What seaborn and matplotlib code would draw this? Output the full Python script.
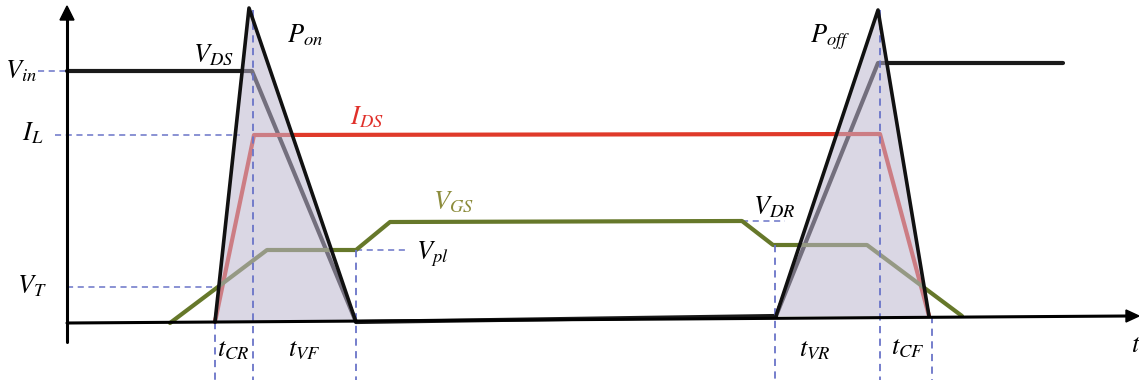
import numpy as np
import pandas as pd
import matplotlib
matplotlib.use("Agg")
import matplotlib.pyplot as plt
import seaborn as sns

# ---- waveform data (time, level) in drawing units ----
vds_t = [67, 252, 356, 776, 878, 1063]
vds_v = [71, 71, 322, 316, 63, 63]

ids_t = [215, 254, 880, 929]
ids_v = [322, 135, 134, 316]

vgs_t = [170, 267, 356, 390, 742, 773, 867, 962]
vgs_v = [323, 250, 250, 222, 221, 245, 245, 316]

# power-loss triangles (base start, apex, base end)
pon_t = [215, 249, 356]
pon_v = [322, 8, 322]
poff_t = [776, 878, 929]
poff_v = [316, 10, 316]

# reference levels: (label, y, x_start, x_end)
h_refs = [("Vin", 71, 38, 67), ("IL", 135, 55, 240), ("VT", 287, 67, 215),
          ("Vpl", 250, 356, 405), ("VDR", 221, 742, 785)]
# vertical markers: (x, y_top, y_bottom)
v_refs = [(215, 322, 380), (253, 10, 380), (356, 250, 380),
          (775, 245, 380), (880, 10, 380), (932, 316, 380)]

labels = [(r"$V_{in}$", 5, 71, "black"), (r"$I_{L}$", 22, 133, "black"),
          (r"$V_{T}$", 17, 286, "black"), (r"$V_{DS}$", 193, 55, "black"),
          (r"$P_{on}$", 287, 35, "black"), (r"$I_{DS}$", 350, 117, "#e0302a"),
          (r"$V_{GS}$", 433, 202, "#8c8c3c"), (r"$V_{pl}$", 416, 254, "black"),
          (r"$V_{DR}$", 753, 207, "black"), (r"$P_{off}$", 810, 37, "black"),
          (r"$t_{CR}$", 217, 349, "black"), (r"$t_{VF}$", 288, 349, "black"),
          (r"$t_{VR}$", 799, 349, "black"), (r"$t_{CF}$", 891, 347, "black"),
          (r"$t$", 1131, 345, "black")]

sns.set_theme(style="white")
plt.rcParams["mathtext.fontset"] = "stix"
plt.rcParams["font.family"] = ["DejaVu Serif"]

fig = plt.figure(figsize=(11.39, 3.83), dpi=100)
ax = fig.add_axes([0, 0, 1, 1])
ax.set_xlim(0, 1139)
ax.set_ylim(383, 0)
ax.axis("off")

dash_c = "#6a74c8"
for _, y, x0, x1 in h_refs:
    ax.plot([x0, x1], [y, y], ls=(0, (4, 3)), color=dash_c, lw=1.1, zorder=1)
for x, y0, y1 in v_refs:
    ax.plot([x, x], [y0, y1], ls=(0, (4, 3)), color=dash_c, lw=1.3, zorder=3.5)

# axes
ax.plot([67, 67], [342, 18], color="black", lw=2.2, zorder=5)
ax.fill([60, 67, 74], [20, 6, 20], color="black", zorder=5)
ax.plot([67, 1128], [323, 316], color="black", lw=2.2, zorder=5)
ax.fill([1126, 1139, 1126], [310, 316, 322], color="black", zorder=5)

df_vds = pd.DataFrame({"t": vds_t, "v": vds_v})
df_ids = pd.DataFrame({"t": ids_t, "v": ids_v})
df_vgs = pd.DataFrame({"t": vgs_t, "v": vgs_v})
sns.lineplot(data=df_vds, x="t", y="v", sort=False, estimator=None, color="#1a1a1a", lw=3, ax=ax, zorder=2)
sns.lineplot(data=df_ids, x="t", y="v", sort=False, estimator=None, color="#e03a2a", lw=3, ax=ax, zorder=2)
sns.lineplot(data=df_vgs, x="t", y="v", sort=False, estimator=None, color="#66782a", lw=3, ax=ax, zorder=2)

for tt, vv in [(pon_t, pon_v), (poff_t, poff_v)]:
    ax.fill(tt, vv, color="#bdb6cf", alpha=0.55, zorder=3, lw=0)
    ax.plot(tt, vv, color="#111111", lw=2.6, zorder=4)

for s, x, y, c in labels:
    ax.text(x, y, s, fontsize=19, color=c, va="center", ha="left", zorder=6)

ax.set_xlabel("")
ax.set_ylabel("")
fig.savefig("out.png", dpi=100)
